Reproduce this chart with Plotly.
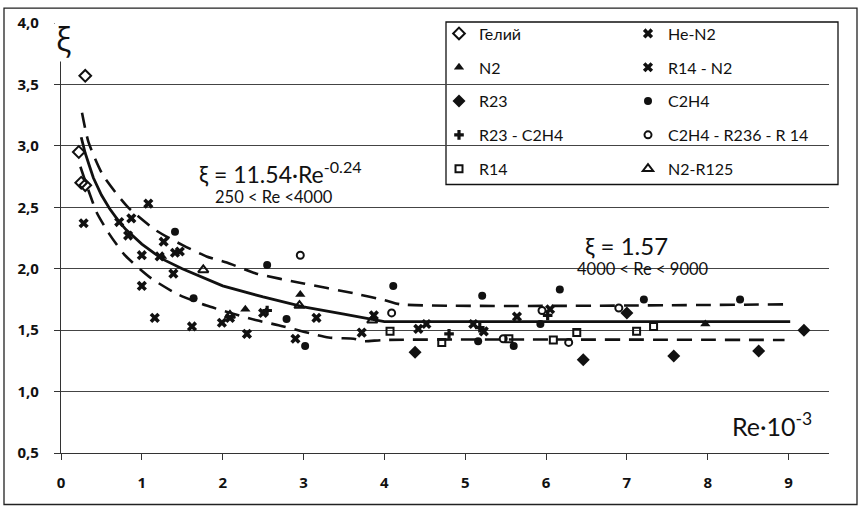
import plotly.graph_objects as go

# ---- data ----
helium_x = [0.30, 0.22, 0.25, 0.30]
helium_y = [3.57, 2.95, 2.70, 2.68]

hen2_x = [0.28, 0.72, 0.87, 0.83, 1.00, 1.22, 1.27, 1.08, 1.41, 1.47]
hen2_y = [2.37, 2.38, 2.41, 2.27, 2.11, 2.10, 2.22, 2.53, 2.13, 2.14]

n2_x = [1.25, 2.28, 2.96, 7.97]
n2_y = [2.10, 1.67, 1.79, 1.55]

r14n2_x = [1.00, 1.16, 1.39, 1.62, 1.99, 2.09, 2.30, 2.50, 2.90, 3.16, 3.72, 3.87, 4.42, 4.52, 5.10, 5.23, 5.64, 6.05]
r14n2_y = [1.86, 1.60, 1.96, 1.53, 1.56, 1.60, 1.47, 1.64, 1.43, 1.60, 1.48, 1.62, 1.51, 1.55, 1.55, 1.49, 1.61, 1.67]

r23_x = [4.38, 6.46, 7.00, 7.58, 8.63, 9.19]
r23_y = [1.32, 1.26, 1.64, 1.29, 1.33, 1.50]

c2h4_x = [1.41, 1.64, 2.55, 2.79, 3.02, 4.11, 5.21, 5.16, 5.60, 5.93, 6.17, 7.21, 8.40]
c2h4_y = [2.30, 1.76, 2.03, 1.59, 1.37, 1.86, 1.78, 1.41, 1.37, 1.55, 1.83, 1.75, 1.75]

r23c2h4_x = [2.55, 4.80, 5.18, 6.02]
r23c2h4_y = [1.66, 1.47, 1.52, 1.62]

c2h4r236_x = [2.96, 4.09, 5.47, 5.95, 6.28, 6.90]
c2h4r236_y = [2.11, 1.64, 1.43, 1.66, 1.40, 1.68]

r14_x = [4.07, 4.71, 5.54, 6.09, 6.38, 7.12, 7.33]
r14_y = [1.49, 1.40, 1.43, 1.42, 1.48, 1.49, 1.53]

n2r125_x = [1.76, 2.09, 2.95, 3.85]
n2r125_y = [1.99, 1.62, 1.70, 1.58]

fit_x = [0.25, 0.3, 0.35, 0.4, 0.5, 0.6, 0.7, 0.8, 1.0, 1.25, 1.5, 1.75, 2.0, 2.5, 3.0, 3.5, 4.0, 9.02]
fit_y = [3.07, 2.94, 2.84, 2.74, 2.60, 2.49, 2.40, 2.32, 2.20, 2.08, 2.00, 1.93, 1.86, 1.77, 1.69, 1.63, 1.57, 1.57]

upper_x = [0.26, 0.34, 0.52, 0.83, 1.18, 1.51, 1.80, 2.05, 2.42, 3.00, 3.62, 4.03, 4.20, 8.95]
upper_y = [3.27, 3.03, 2.76, 2.50, 2.31, 2.19, 2.10, 2.05, 1.96, 1.88, 1.80, 1.74, 1.71, 1.71]

lower_x = [0.24, 0.36, 0.44, 0.59, 0.79, 1.12, 1.45, 1.80, 2.42, 2.69, 3.31, 3.62, 3.75, 4.00, 8.95]
lower_y = [2.83, 2.60, 2.46, 2.29, 2.11, 1.92, 1.79, 1.70, 1.58, 1.54, 1.44, 1.43, 1.41, 1.42, 1.42]

y_ticks = [0.5, 1.0, 1.5, 2.0, 2.5, 3.0, 3.5, 4.0]
y_ticktext = ["0,5", "1,0", "1,5", "2,0", "2,5", "3,0", "3,5", "4,0"]
x_ticks = [0, 1, 2, 3, 4, 5, 6, 7, 8, 9]

FONT = "Lato, 'Open Sans', sans-serif"
TICKFONT = "'Open Sans', Lato, sans-serif"
BLACK = "#111111"

fig = go.Figure()

# fitted / band lines
fig.add_trace(go.Scatter(x=upper_x, y=upper_y, mode="lines", showlegend=False,
                         line=dict(color=BLACK, width=2.6, dash="15px,9px", shape="spline", smoothing=0.6),
                         hoverinfo="skip"))
fig.add_trace(go.Scatter(x=lower_x, y=lower_y, mode="lines", showlegend=False,
                         line=dict(color=BLACK, width=2.6, dash="15px,9px", shape="spline", smoothing=0.6),
                         hoverinfo="skip"))
fig.add_trace(go.Scatter(x=fit_x, y=fit_y, mode="lines", showlegend=False,
                         line=dict(color=BLACK, width=2.8), hoverinfo="skip"))

def pts(x, y, name, symbol, size, legend, lw=0):
    fig.add_trace(go.Scatter(
        x=x, y=y, mode="markers", name=name, legend=legend, legendgroup=name,
        marker=dict(symbol=symbol, size=size, color=BLACK,
                    line=dict(color=BLACK, width=lw))))

# left legend column
pts(helium_x, helium_y, "Гелий", "diamond-open", 9, "legend", 2)
pts(n2_x, n2_y, "N2", "triangle-up", 9, "legend")
pts(r23_x, r23_y, "R23", "diamond", 10, "legend")
pts(r23c2h4_x, r23c2h4_y, "R23 - C2H4", "cross", 8, "legend")
pts(r14_x, r14_y, "R14", "square-open", 7, "legend", 2)
# right legend column
pts(hen2_x, hen2_y, "He-N2", "x", 9, "legend2")
pts(r14n2_x, r14n2_y, "R14 - N2", "x", 9, "legend2")
pts(c2h4_x, c2h4_y, "C2H4", "circle", 8, "legend2")
pts(c2h4r236_x, c2h4r236_y, "C2H4 - R236 - R 14", "circle-open", 7, "legend2", 2)
pts(n2r125_x, n2r125_y, "N2-R125", "triangle-up-open", 9, "legend2", 2)

L, R, T, B = 61, 32, 19, 56
W, H = 861 - L - R, 509 - T - B

def px(xp):
    return (xp - L) / W

def py(yp):
    return (509 - B - yp) / H

legend_common = dict(
    font=dict(family=FONT, size=16, color=BLACK),
    bgcolor="rgba(0,0,0,0)", borderwidth=0,
    traceorder="grouped", tracegroupgap=10,
    itemwidth=30, xanchor="left", yanchor="top",
)

fig.update_layout(
    width=861, height=509,
    margin=dict(l=L, r=R, t=T, b=B),
    paper_bgcolor="white", plot_bgcolor="white",
    font=dict(family=FONT, color=BLACK),
    legend=dict(x=px(439), y=py(12.5), **legend_common),
    legend2=dict(x=px(628), y=py(12.5), **legend_common),
    xaxis=dict(range=[0, 9.5], tickvals=x_ticks, showgrid=False, zeroline=False,
               showline=True, linecolor="#333", linewidth=1.2,
               ticks="outside", ticklen=6, tickcolor="#333",
               tickfont=dict(family=TICKFONT, size=15, color=BLACK, weight="bold"),
               ticklabelstandoff=10),
    yaxis=dict(range=[0.5, 4.0], tickvals=y_ticks, ticktext=y_ticktext,
               showgrid=True, gridcolor="#444", gridwidth=1, zeroline=False,
               showline=True, linecolor="#333", linewidth=1.2,
               ticks="outside", ticklen=6, tickcolor="#333",
               tickfont=dict(family=TICKFONT, size=15, color=BLACK, weight="bold"),
               ticklabelstandoff=12),
    shapes=[
        dict(type="rect", xref="paper", yref="paper",
             x0=px(446), x1=px(838), y0=py(182), y1=py(18),
             line=dict(color=BLACK, width=1.3), fillcolor="white", layer="below"),
        dict(type="rect", xref="paper", yref="paper",
             x0=px(4), x1=px(857), y0=py(505), y1=py(4),
             line=dict(color="#222", width=1.3), layer="below"),
    ],
    annotations=[
        dict(x=px(63), y=py(35), xref="paper", yref="paper", text="ξ", showarrow=False,
             font=dict(family="'Open Sans', sans-serif", size=32, color=BLACK),
             bgcolor="white", xanchor="center", yanchor="middle"),
        dict(x=1.68, y=2.78, text="ξ = 11.54·Re<sup>-0.24</sup>", showarrow=False,
             xanchor="left", yanchor="middle",
             font=dict(family=FONT, size=23, color=BLACK)),
        dict(x=1.88, y=2.58, text="250 &lt; Re &lt;4000", showarrow=False,
             xanchor="left", yanchor="middle",
             font=dict(family=FONT, size=16.5, color=BLACK)),
        dict(x=6.46, y=2.19, text="ξ = 1.57", showarrow=False,
             xanchor="left", yanchor="middle",
             font=dict(family=FONT, size=24, color=BLACK)),
        dict(x=6.36, y=1.995, text="4000 &lt; Re &lt; 9000", showarrow=False,
             xanchor="left", yanchor="middle",
             font=dict(family=FONT, size=16.5, color=BLACK)),
        dict(x=9.31, y=0.73, text="Re·10<sup>-3</sup>", showarrow=False,
             xanchor="right", yanchor="middle",
             font=dict(family=FONT, size=25, color=BLACK)),
    ],
)

fig.write_html("out.html", config={"displayModeBar": False},
               post_script="document.body.style.margin='0';")
